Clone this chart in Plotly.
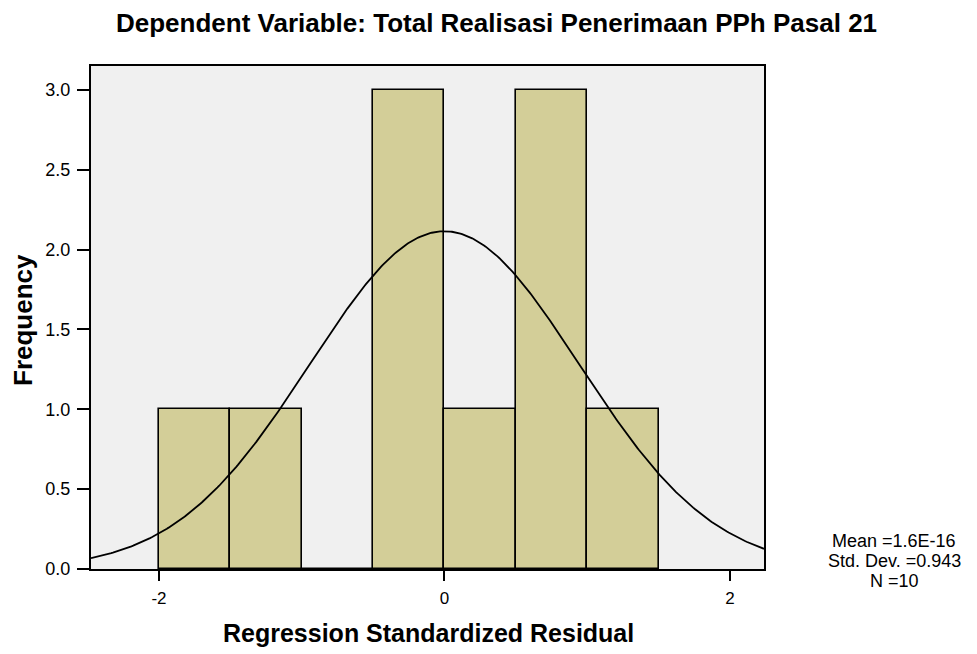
import numpy as np
import plotly.graph_objects as go

bin_starts = [-2.0, -1.5, -1.0, -0.5, 0.0, 0.5, 1.0]
bin_width = 0.5
counts = [1, 1, 0, 3, 1, 3, 1]
mean_val = 1.6e-16
std_val = 0.943
n_val = 10
x_ticks = [-2, 0, 2]
y_ticks = [0.0, 0.5, 1.0, 1.5, 2.0, 2.5, 3.0]
stats_lines = ["Mean =1.6E-16", "Std. Dev. =0.943", "N =10"]

x_range = [-2.476, 2.238]
y_range = [0, 3.15]

centers = [s + bin_width / 2 for s in bin_starts]

xs = np.linspace(x_range[0], x_range[1], 400)
ys = n_val * bin_width / (std_val * np.sqrt(2 * np.pi)) * np.exp(-0.5 * ((xs - mean_val) / std_val) ** 2)

# page body has an 8px margin; figure sized to fit the 977x654 window
OFF = 8
W, H = 977 - OFF, 654 - OFF
L, R, T, B = 91 - OFF, 977 - 764, 66 - OFF, 654 - 569
PW, PH = W - L - R, H - T - B


def px(x):
    return (x - OFF - L) / PW


def py(y):
    return (H - B - (y - OFF)) / PH


fig = go.Figure()
fig.add_trace(go.Bar(x=centers, y=counts, width=bin_width,
                     marker=dict(color="#D3CE98", line=dict(color="black", width=1.6)),
                     showlegend=False))
fig.add_trace(go.Scatter(x=xs, y=ys, mode="lines", line=dict(color="black", width=1.8),
                         showlegend=False))

font_family = "Liberation Sans, Arial, sans-serif"
annotations = [
    dict(text="<b>Dependent Variable: Total Realisasi Penerimaan PPh Pasal 21</b>",
         x=px(496), y=py(23), font=dict(size=26)),
    dict(text="<b>Regression Standardized Residual</b>",
         x=px(428), y=py(633), font=dict(size=25)),
    dict(text="<b>Frequency</b>", textangle=-90,
         x=px(23), y=py(320), font=dict(size=26)),
]
for line, yc in zip(stats_lines, [541, 561, 581]):
    annotations.append(dict(text=line, x=px(894), y=py(yc), font=dict(size=18)))
for a in annotations:
    a.update(xref="paper", yref="paper", showarrow=False, xanchor="center", yanchor="middle")

fig.update_layout(
    width=W, height=H,
    margin=dict(l=L, r=R, t=T, b=B),
    paper_bgcolor="white", plot_bgcolor="#F0F0F0",
    font=dict(family=font_family, color="black", size=18),
    bargap=0,
    xaxis=dict(range=x_range, tickvals=x_ticks, ticktext=[str(v) for v in x_ticks],
               ticks="outside", ticklen=10, tickwidth=2, tickcolor="black",
               ticklabelstandoff=3, tickfont=dict(size=17),
               showline=True, linecolor="black", linewidth=2, mirror=True,
               showgrid=False, zeroline=False),
    yaxis=dict(range=y_range, tickvals=y_ticks, ticktext=[f"{v:.1f}" for v in y_ticks],
               ticks="outside", ticklen=12, tickwidth=2, tickcolor="black",
               ticklabelstandoff=3, tickfont=dict(size=18),
               showline=True, linecolor="black", linewidth=2, mirror=True,
               showgrid=False, zeroline=False),
    annotations=annotations,
)

fig.write_html("out.html")
